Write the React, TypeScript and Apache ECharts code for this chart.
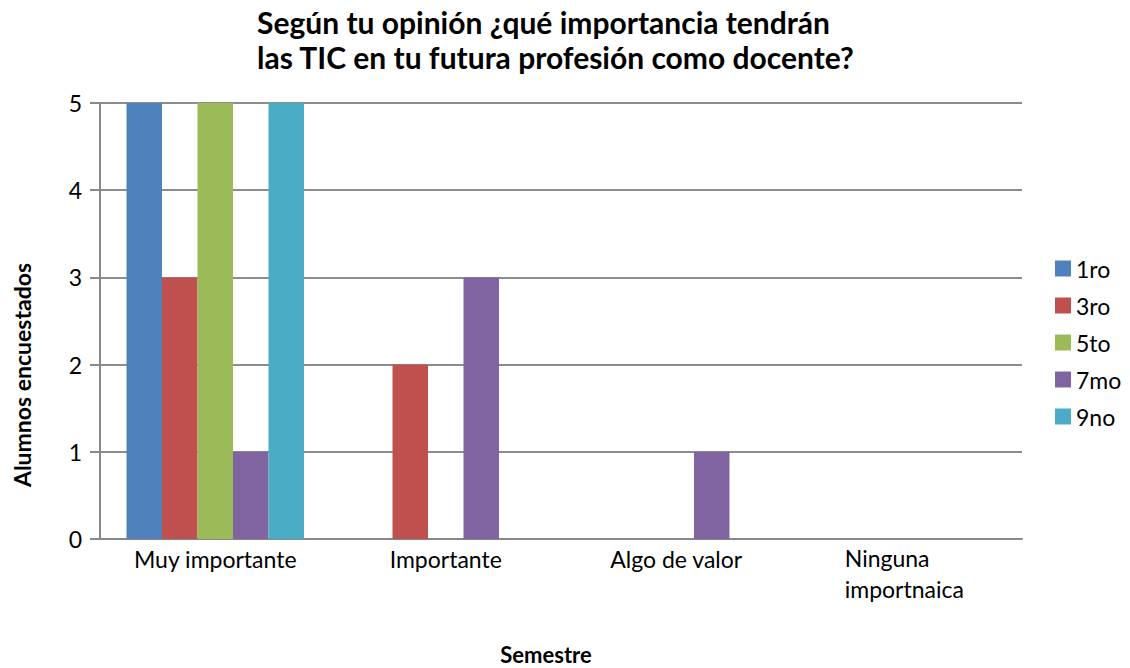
import React, { useEffect, useRef } from "react";
import * as echarts from "echarts";

const categories = ["Muy importante", "Importante", "Algo de valor", "Ninguna importnaica"];
const seriesNames = ["1ro", "3ro", "5to", "7mo", "9no"];
const values1ro = [5, 0, 0, 0];
const values3ro = [3, 2, 0, 0];
const values5to = [5, 0, 0, 0];
const values7mo = [1, 3, 1, 0];
const values9no = [5, 0, 0, 0];
const colors = ["#4F81BD", "#C0504D", "#9BBB59", "#8064A2", "#4BACC6"];
const yTicks = [0, 1, 2, 3, 4, 5];

const FONT = "Lato";

export default function App() {
  const ref = useRef<HTMLDivElement>(null);
  useEffect(() => {
    if (!ref.current) return;
    const chart = echarts.init(ref.current, null, { renderer: "svg" });
    const allValues = [values1ro, values3ro, values5to, values7mo, values9no];
    chart.setOption({
      animation: false,
      textStyle: { fontFamily: FONT },
      title: {
        text: "Según tu opinión ¿qué importancia tendrán\nlas TIC en tu futura profesión como docente?",
        left: 257,
        top: 4,
        padding: 0,
        textStyle: {
          fontFamily: FONT,
          fontSize: 30,
          fontWeight: "bold",
          color: "#000",
          lineHeight: 35,
          align: "left",
        },
      },
      legend: {
        orient: "vertical",
        left: 1055,
        top: 257,
        padding: 0,
        itemWidth: 16,
        itemHeight: 16,
        itemGap: 14,
        icon: "rect",
        data: seriesNames,
        textStyle: { fontFamily: FONT, fontSize: 23, color: "#000" },
      },
      graphic: [
        {
          type: "text",
          x: 22,
          y: 375,
          rotation: Math.PI / 2,
          style: {
            text: "Alumnos encuestados",
            fontFamily: FONT,
            fontSize: 23,
            fontWeight: "bold",
            fill: "#000",
            textAlign: "center",
            textVerticalAlign: "middle",
          },
        },
        {
          type: "text",
          x: 546,
          y: 654,
          style: {
            text: "Semestre",
            fontFamily: FONT,
            fontSize: 22,
            fontWeight: "bold",
            fill: "#000",
            textAlign: "center",
            textVerticalAlign: "middle",
          },
        },
      ],
      grid: { left: 100, right: 108, top: 103, bottom: 129, containLabel: false },
      xAxis: {
        type: "category",
        data: categories,
        axisLine: { lineStyle: { color: "#888", width: 2 } },
        axisTick: { show: false },
        axisLabel: {
          fontFamily: FONT,
          fontSize: 23,
          color: "#000",
          margin: 8,
          interval: 0,
          formatter: (v: string) => {
            if (v === "Ninguna importnaica") return "{a|Ninguna}\n{c|importnaica}";
            return v;
          },
          rich: {
            a: { fontFamily: FONT, fontSize: 23, color: "#000", width: 124, align: "left", lineHeight: 22 },
            c: { fontFamily: FONT, fontSize: 23, color: "#000", width: 124, align: "left", lineHeight: 40 },
          },
        },
      },
      yAxis: {
        type: "value",
        min: 0,
        max: 5,
        interval: 1,
        axisLine: { show: true, lineStyle: { color: "#888", width: 2 } },
        axisTick: { show: true, length: 10, lineStyle: { color: "#888", width: 2 } },
        axisLabel: {
          fontFamily: FONT,
          fontSize: 23,
          color: "#000",
          margin: 18,
          formatter: (v: number) => (yTicks.includes(v) ? String(v) : ""),
        },
        splitLine: { lineStyle: { color: "#8c8c8c", width: 2 } },
      },
      series: seriesNames.map((name, i) => ({
        name,
        type: "bar",
        data: allValues[i],
        itemStyle: { color: colors[i] },
        barGap: "0%",
        barCategoryGap: "23%",
      })),
    });
    return () => chart.dispose();
  }, []);
  return (
    <div
      ref={ref}
      style={{ position: "absolute", left: 0, top: 0, width: 1130, height: 668 }}
    />
  );
}
